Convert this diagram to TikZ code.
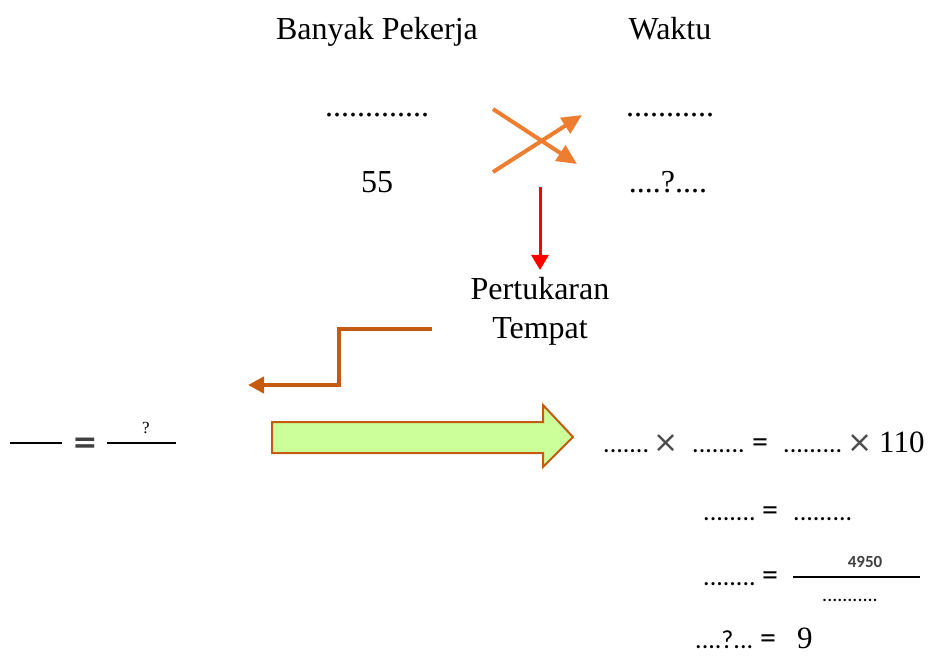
\documentclass[tikz,border=0pt]{standalone}
\usepackage{fontspec}
\setmainfont{Liberation Serif}
\newfontfamily\calfont{Carlito}
\newfontfamily\symfont{DejaVu Sans}
\usetikzlibrary{arrows.meta,positioning}
\definecolor{crossorange}{HTML}{ED7D31}
\definecolor{stepbrown}{HTML}{C55A11}
\definecolor{arrowgreen}{HTML}{CCFF99}
\tikzset{
    head-text/.style = {font=\fontsize{32}{38}\selectfont, inner sep=0pt, anchor=base},
    eq-text/.style = {font=\calfont\fontsize{26}{31}\selectfont, inner sep=0pt, anchor=base west},
    sign-text/.style = {font=\calfont\fontsize{32}{38}\selectfont, inner sep=0pt, anchor=base},
    small-text/.style = {font=\fontsize{17}{20}\selectfont, inner sep=0pt, anchor=base},
    cross-arrow/.style = {crossorange, line width=4pt, -{Triangle[length=20pt,width=18pt]}},
    frac-line/.style = {line width=2pt},
}

\begin{document}
\begin{tikzpicture}[x=1pt, y=-1pt]
\useasboundingbox (0,0) rectangle (937,660);
% table of values
\node[head-text] (workers) at (377,40) {Banyak Pekerja};
\node[head-text] (time) at (670,40) {Waktu};
\node[head-text] (w1) at (377,117) {.............};
\node[head-text] (t1) at (670,117) {...........};
\node[head-text] (w2) at (377,193) {55};
\node[head-text] (t2) at (668,193) {....?....};
% crossing arrows
\coordinate (c1s) at (493,109);
\coordinate (c1e) at (577,164);
\coordinate (c2s) at (493,172);
\coordinate (c2e) at (582,115);
\draw[cross-arrow] (c1s) -- (c1e);
\draw[cross-arrow] (c2s) -- (c2e);
% swap
\coordinate (swaptop) at (540,187);
\coordinate (swapend) at (540,270);
\node[head-text] (swap1) at (540,300) {Pertukaran};
\node[head-text] (swap2) at (540,338) {Tempat};
\draw[red, line width=3pt, -{Triangle[length=15pt,width=17pt]}] (swaptop) -- (swapend);
\coordinate (stepstart) at (432,329);
\coordinate (stepend) at (248,385);
\draw[stepbrown, line width=4pt, -{Triangle[length=16pt,width=16pt]}]
    (stepstart) -- (339,329) -- (339,385) -- (stepend);
% left fraction
\draw[frac-line] (10,443) -- (62,443);
\node[sign-text, font=\symfont\bfseries\fontsize{30}{36}\selectfont, text=black!75] (eqleft) at (85,452) {=};
\draw[frac-line] (107,443) -- (176,443);
\node[small-text] (qmark) at (146,433) {?};
% big arrow
\draw[stepbrown, fill=arrowgreen, line width=2pt]
    (272,422) -- (543,422) -- (543,405) -- (573,437) -- (543,467) -- (543,453) -- (272,453) -- cycle;
% equations
\node[eq-text] (r1a) at (603,452) {.......};
\node[sign-text, font=\symfont\fontsize{30}{36}\selectfont, text=black!70] (r1x) at (666,452) {×};
\node[eq-text] (r1b) at (692,452) {........};
\node[sign-text] (r1eq) at (760,452) {=};
\node[eq-text] (r1c) at (783,452) {.........};
\node[sign-text, font=\symfont\fontsize{30}{36}\selectfont, text=black!70] (r1y) at (860,452) {×};
\node[eq-text, font=\fontsize{31}{36}\selectfont] (r1d) at (879,452) {110};
\node[eq-text] (r2a) at (703,520) {........};
\node[sign-text] (r2eq) at (770,520) {=};
\node[eq-text] (r2b) at (793,520) {.........};
\node[eq-text] (r3a) at (703,585) {........};
\node[sign-text] (r3eq) at (770,585) {=};
\draw[frac-line] (793,577) -- (920,577);
\node[small-text, font=\calfont\bfseries\fontsize{17}{20}\selectfont, text=black!75] (r3num) at (865,567) {4950};
\node[small-text, font=\calfont\fontsize{20}{24}\selectfont] (r3den) at (850,601) {...........};
\node[eq-text] (r4a) at (695,648) {....?...};
\node[sign-text] (r4eq) at (768,648) {=};
\node[eq-text, font=\fontsize{31}{36}\selectfont] (r4b) at (797,648) {9};
\end{tikzpicture}
\end{document}
